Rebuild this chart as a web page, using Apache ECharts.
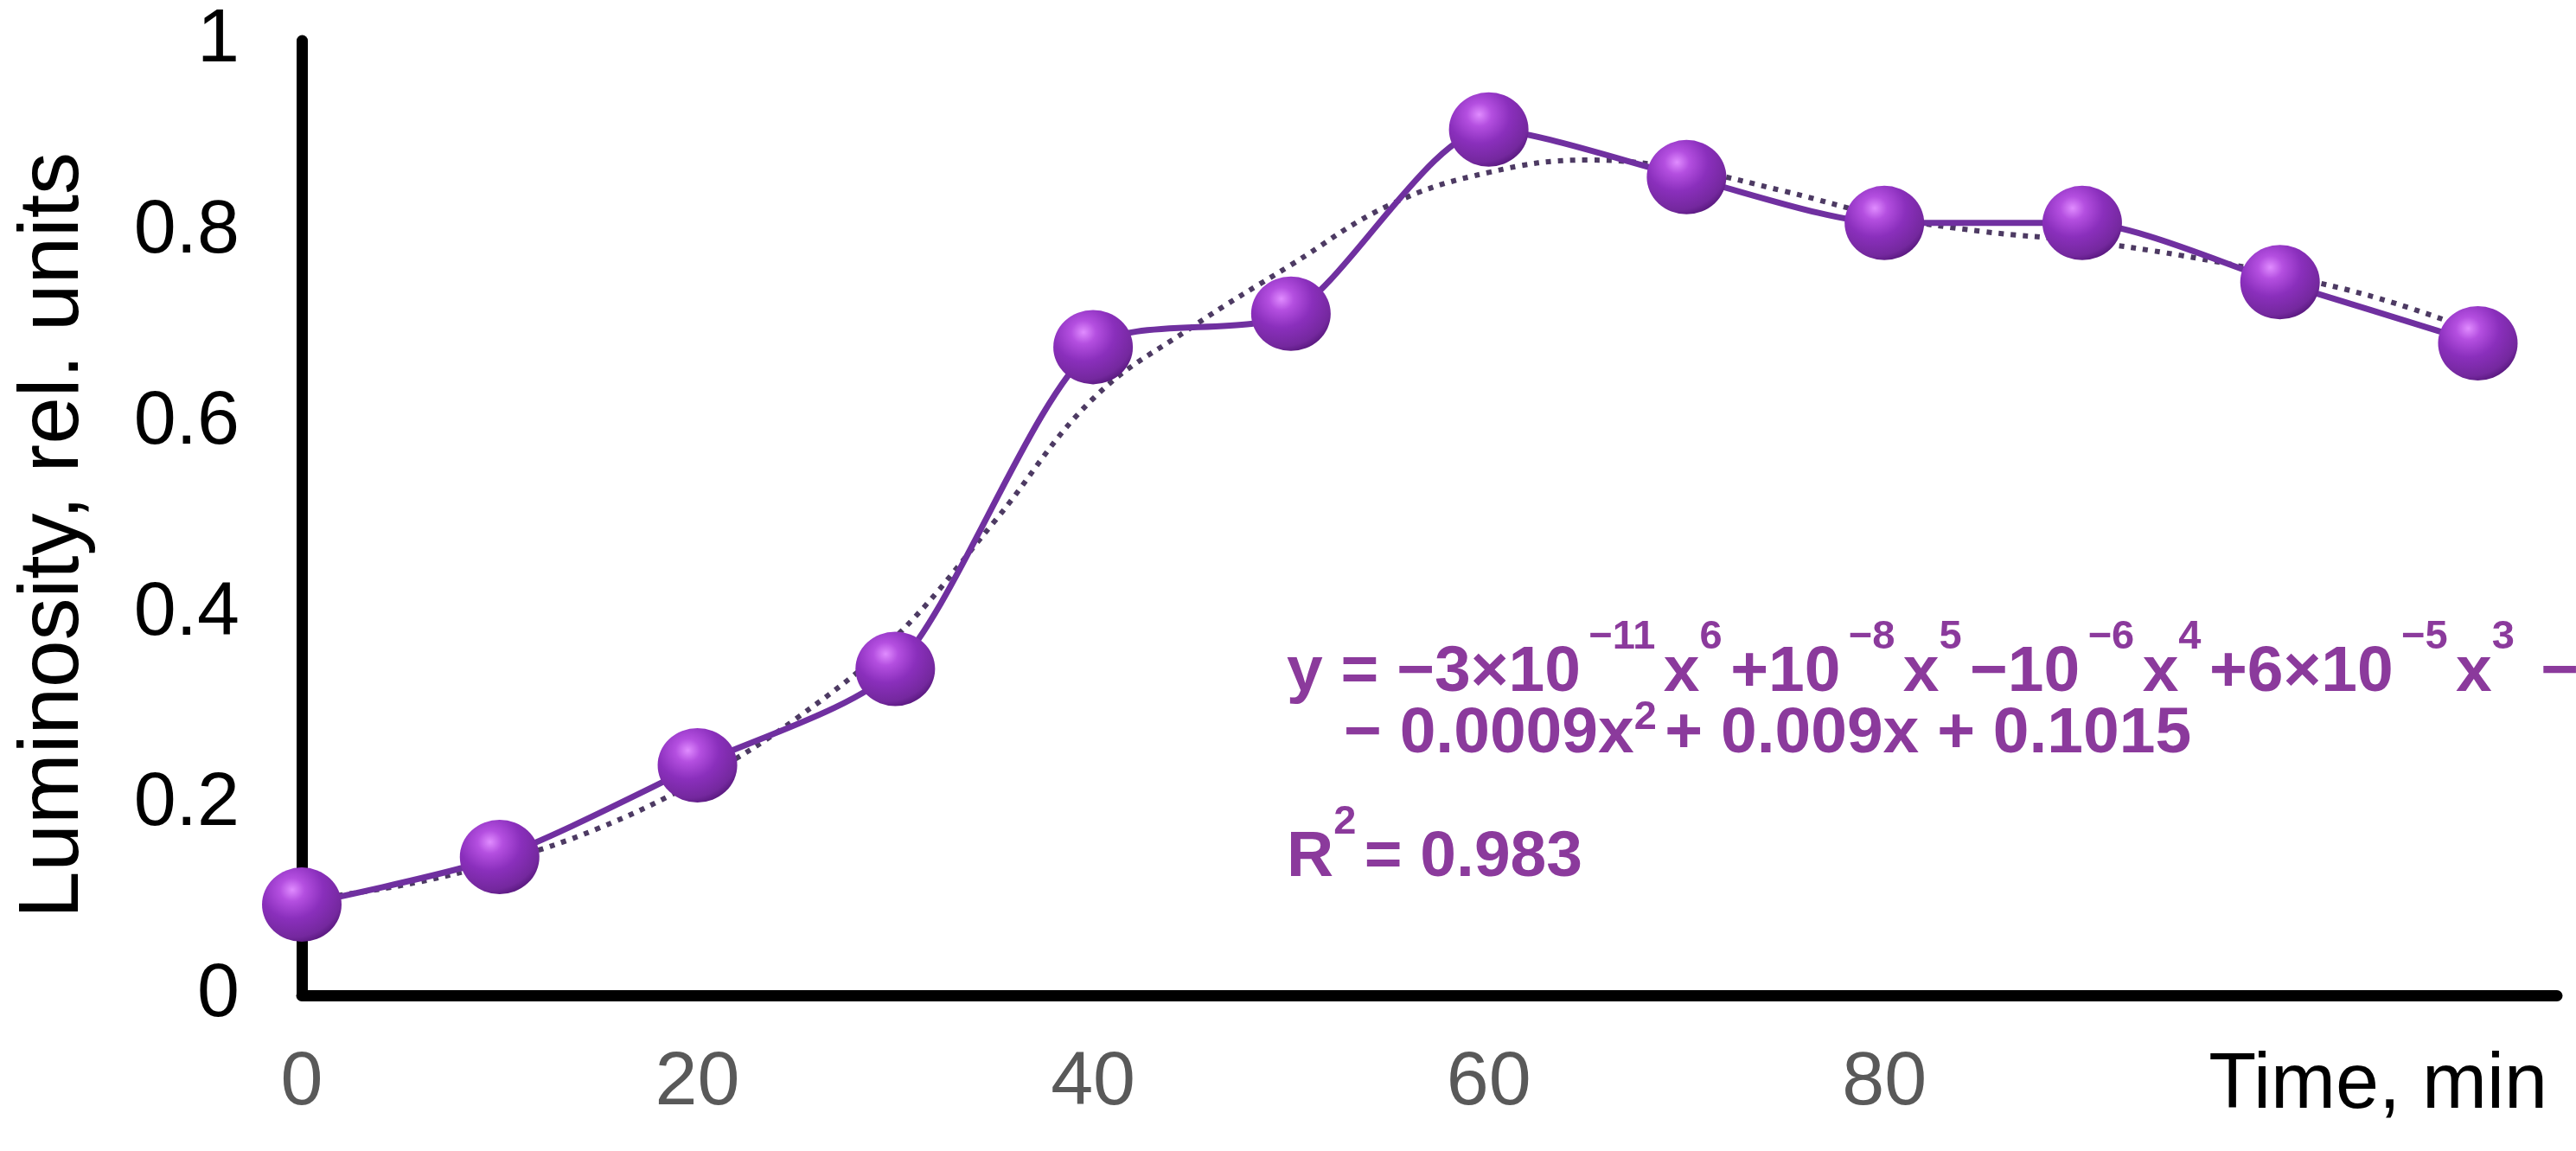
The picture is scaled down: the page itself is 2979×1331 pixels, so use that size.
<!DOCTYPE html>
<html>
<head>
<meta charset="utf-8">
<script src="https://cdn.jsdelivr.net/npm/echarts/dist/echarts.min.js"></script>
<style>
html,body{margin:0;padding:0;background:#fff;}
#chart{width:2979px;height:1331px;}
</style>
</head>
<body>
<div id="chart"></div>
<script>
// ---- data ----
const times = [0, 10, 20, 30, 40, 50, 60, 70, 80, 90, 100, 110];
const luminosity = [0.095, 0.145, 0.241, 0.342, 0.679, 0.714, 0.907, 0.857, 0.809, 0.809, 0.747, 0.683];
// dotted 6th-order trend line
const trendTimes = [0, 5, 10, 15, 20, 25, 30, 35, 40, 45, 50, 55, 60, 65, 70, 75, 80, 85, 90, 95, 100, 105, 110];
const trendValues = [0.100, 0.115, 0.140, 0.175, 0.225, 0.290, 0.375, 0.496, 0.625, 0.700, 0.765, 0.828, 0.862, 0.875, 0.865, 0.842, 0.816, 0.800, 0.790, 0.775, 0.755, 0.730, 0.695];
const xTickLabels = ['0', '20', '40', '60', '80'];
const yTickLabels = ['0', '0.2', '0.4', '0.6', '0.8', '1'];
const xAxisTitle = 'Time, min';
const yAxisTitle = 'Luminosity, rel. units';
const eqLine1 = '{n|y = −3×10}{s|\u2009−11\u2009}{n|x}{s|6\u2009}{n|+10}{s|\u2009−8\u2009}{n|x}{s|5\u2009}{n|−10}{s|\u2009−6\u2009}{n|x}{s|4\u2009}{n|+6×10}{s|\u2009−5\u2009}{n|x}{s|3\u2009}{n| −}';
const eqLine2 = '{n|− 0.0009x}{t|2\u2009}{n|+ 0.009x + 0.1015}';
const eqLine3 = '{n|R}{s|2\u2009}{n|= 0.983}';

const FONT = '"Liberation Sans", Arial, sans-serif';
const EQ_COLOR = '#8b3a9c';
const eqRich = {
  n: { fontSize: 75, fontWeight: 'bold', fontFamily: FONT, fill: EQ_COLOR, lineHeight: 128, verticalAlign: 'middle' },
  s: { fontSize: 47, fontWeight: 'bold', fontFamily: FONT, fill: EQ_COLOR, lineHeight: 47, verticalAlign: 'top' },
  t: { fontSize: 47, fontWeight: 'bold', fontFamily: FONT, fill: EQ_COLOR, lineHeight: 47, verticalAlign: 'top', padding: [22, 0, 0, 0] }
};

const chart = echarts.init(document.getElementById('chart'), null, { renderer: 'canvas' });

const markerGradient = {
  type: 'radial', x: 0.38, y: 0.3, r: 0.78,
  colorStops: [
    { offset: 0, color: '#e08cff' },
    { offset: 0.2, color: '#b44fe0' },
    { offset: 0.5, color: '#8a2fbc' },
    { offset: 0.82, color: '#74289e' },
    { offset: 1, color: '#4e1272' }
  ]
};

const option = {
  animation: false,
  backgroundColor: '#ffffff',
  grid: { left: 349, top: 47, right: 22, bottom: 180, containLabel: false },
  xAxis: {
    type: 'value', min: 0, max: 114, interval: 20,
    axisLine: { show: true, lineStyle: { color: '#000', width: 13 } },
    axisTick: { show: false },
    splitLine: { show: false },
    axisLabel: {
      margin: 58, fontSize: 88, fontFamily: FONT, color: '#595959',
      showMaxLabel: false,
      formatter: function (v) { const i = Math.round(v / 20); return (v % 20 === 0 && i < xTickLabels.length) ? xTickLabels[i] : ''; }
    }
  },
  yAxis: {
    type: 'value', min: 0, max: 1, interval: 0.2,
    axisLine: { show: true, lineStyle: { color: '#000', width: 13 } },
    axisTick: { show: false },
    splitLine: { show: false },
    axisLabel: {
      margin: 72, fontSize: 88, fontFamily: FONT, color: '#000',
      formatter: function (v) { return yTickLabels[Math.round(v / 0.2)]; }
    }
  },
  series: [
    {
      name: 'trend', type: 'line', smooth: 0.4, showSymbol: false, silent: true, z: 2,
      data: trendTimes.map((t, i) => [t, trendValues[i]]),
      lineStyle: { color: '#4d3a63', width: 6, type: [6, 8], cap: 'butt' }
    },
    {
      name: 'luminosity', type: 'line', smooth: 0.25, z: 3,
      data: times.map((t, i) => [t, luminosity[i]]),
      symbol: 'circle', symbolSize: [92, 86], showAllSymbol: true,
      lineStyle: { color: '#7030a0', width: 7 },
      itemStyle: { color: markerGradient, borderWidth: 0 }
    }
  ],
  graphic: [
    { type: 'text', x: 63, y: 619, rotation: Math.PI / 2, style: { text: yAxisTitle, font: '98px ' + FONT, fill: '#000', textAlign: 'center', textVerticalAlign: 'middle' } },
    { type: 'text', x: 2946, y: 1256, style: { text: xAxisTitle, font: '90px ' + FONT, fill: '#000', textAlign: 'right', textVerticalAlign: 'middle' } },
    { type: 'text', x: 1488, y: 714, style: { text: eqLine1, rich: eqRich, textVerticalAlign: 'top', textAlign: 'left' } },
    { type: 'text', x: 1554, y: 785, style: { text: eqLine2, rich: eqRich, textVerticalAlign: 'top', textAlign: 'left' } },
    { type: 'text', x: 1488, y: 928, style: { text: eqLine3, rich: eqRich, textVerticalAlign: 'top', textAlign: 'left' } }
  ]
};
chart.setOption(option);
</script>
</body>
</html>
